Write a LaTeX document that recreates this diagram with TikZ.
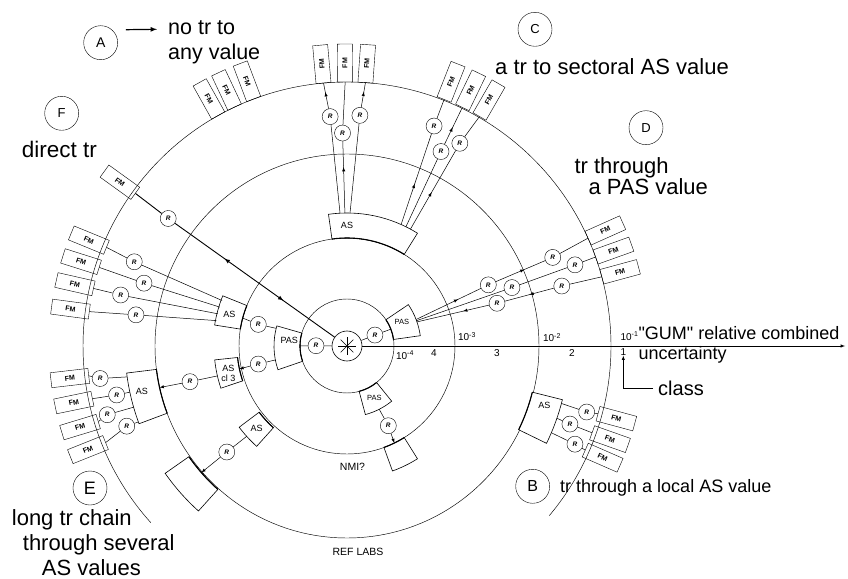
\documentclass[tikz,border=0pt]{standalone}
\usepackage{fontspec}
\setmainfont{Liberation Sans}[Ligatures=TeXOff]
\usetikzlibrary{decorations.markings}

% annular block: start angle, end angle, inner radius, outer radius
\newcommand{\sectorblk}[4]{%
  \draw[sectbox] (#1:#3) arc[start angle=#1, end angle=#2, radius=#3pt]
    -- (#2:#4) arc[start angle=#2, end angle=#1, radius=#4pt] -- cycle;
  \draw[line width=1.1pt] (#1:#3) arc[start angle=#1, end angle=#2, radius=#3pt];}

\begin{document}
\begin{tikzpicture}[x=1pt, y=1pt,
        ring/.style={line width=0.45pt},
        link/.style={line width=0.5pt},
        boldlink/.style={line width=0.9pt},
        sectbox/.style={draw, fill=white, line width=0.6pt},
        rcirc/.style={circle, draw, fill=white, minimum size=16pt, inner sep=0pt,
            font=\fontsize{6.5}{6.5}\selectfont\bfseries\itshape},
        fmbox/.style={draw, minimum width=38pt, minimum height=15pt,
            inner sep=0pt, font=\fontsize{7}{7}\selectfont\bfseries, rotate=#1},
        tag/.style={circle, draw, minimum size=34pt, inner sep=0pt,
            font=\fontsize{13}{13}\selectfont},
        bigtxt/.style={anchor=base west, align=left, inner sep=0pt},
        lbl/.style={font=\fontsize{9}{9.5}\selectfont, inner sep=0pt, align=center},
        axlbl/.style={font=\fontsize{10}{10}\selectfont, inner sep=0pt},
        fwdarr/.style={postaction={decorate, decoration={markings,
            mark=at position #1 with {\arrow{latex}}}}},
        bwdarr/.style={postaction={decorate, decoration={markings,
            mark=at position #1 with {\arrowreversed{latex}}}}}
    ]
    \useasboundingbox (-347,-232) rectangle (501,346);

    % uncertainty rings
    \draw[ring] (0,0) circle[radius=47pt];
    \draw[ring] (0,0) circle[radius=108pt];
    \draw[ring] (0,0) circle[radius=192pt];
    \draw[ring] (-40:264) arc[start angle=-40, end angle=222, radius=264pt];

    % centre and axis
    \node[circle, draw, fill=white, minimum size=30pt, inner sep=0pt, line width=0.6pt] (star) at (0,0) {};
    \foreach \a in {0,45,...,315}
        \draw[line width=0.6pt] (star.center) -- +(\a:9);
    \coordinate (axisEnd) at (498,0);
    \draw[link, -latex] (star) -- (axisEnd);

    \node[axlbl] (e4) at (58,-9) {10\textsuperscript{-4}};
    \node[axlbl] (n4) at (87,-7) {4};
    \node[axlbl] (e3) at (120,9.5) {10\textsuperscript{-3}};
    \node[axlbl] (n3) at (150,-7) {3};
    \node[axlbl] (e2) at (205,8.5) {10\textsuperscript{-2}};
    \node[axlbl] (n2) at (225,-7) {2};
    \node[axlbl] (e1) at (282.5,10) {10\textsuperscript{-1}};
    \node[axlbl] (n1) at (276.3,-6) {1};
    \node[bigtxt, font=\fontsize{18}{20}\selectfont] (gum) at (291.3,-14) {"GUM" relative combined\\uncertainty};
    \node[bigtxt, font=\fontsize{20}{20}\selectfont] (cls) at (311,-49) {class};
    \draw[link, -latex] ([xshift=-5pt]cls.west) -| (n1.south);

    % blocks
    \sectorblk{58}{98}{108}{133}
    \sectorblk{8}{34}{47}{74}
    \sectorblk{164}{199}{47}{73}
    \sectorblk{158}{171}{108}{134}
    \sectorblk{186}{198.5}{110}{133}
    \sectorblk{187}{200.5}{192}{222}
    \sectorblk{217}{228}{110}{135}
    \sectorblk{215}{228}{193}{222}
    \sectorblk{285}{309}{47}{71}
    \sectorblk{290}{302}{108}{133}
    \sectorblk{334}{346}{191}{222}

    \node[lbl] (asT) at (0,121) {AS};
    \node[lbl, font=\fontsize{7.5}{8}\selectfont] (pasD) at (24:60) {PAS};
    \node[lbl] (pasL) at (174:58) {PAS};
    \node[lbl] (asL) at (165:121.7) {AS};
    \node[lbl] (asCl) at (193:121.8) {AS\\cl 3};
    \node[lbl] (asE) at (192.5:210) {AS};
    \node[lbl] (asLL) at (222.2:122) {AS};
    \node[lbl, font=\fontsize{7.5}{8}\selectfont] (pasB) at (297.7:58.7) {PAS};
    \node[lbl] (asB) at (343.3:206) {AS};
    \node[lbl, font=\fontsize{10.5}{11}\selectfont] (nmi) at (5.5,-121) {NMI?};
    \node[lbl, font=\fontsize{10.5}{11}\selectfont] (refl) at (11,-206) {REF LABS};

    % attachment points on the blocks
    \coordinate (asT-a1) at (93:133);
    \coordinate (asT-a2) at (90.9:133);
    \coordinate (asT-a3) at (88.7:133);
    \coordinate (asT-b1) at (66:133);
    \coordinate (asT-b2) at (63.7:133);
    \coordinate (asT-b3) at (61.5:133);
    \coordinate (pasD-i) at (21:47);
    \coordinate (pasD-o1) at (21:74);
    \coordinate (pasD-o2) at (20:74);
    \coordinate (pasD-o3) at (19:74);
    \coordinate (pasL-i) at (180:47);
    \coordinate (pasL-o1) at (166:73);
    \coordinate (pasL-o2) at (191:73);
    \coordinate (asL-i) at (165:108);
    \foreach \a [count=\i] in {160,163,166,169}
        \coordinate (asL-o\i) at (\a:133);
    \coordinate (asCl-i) at (192:110);
    \coordinate (asCl-o) at (193:133);
    \coordinate (asE-i) at (192.5:192);
    \foreach \a [count=\i] in {188,192,196,200}
        \coordinate (asE-o\i) at (\a:222);
    \coordinate (asLL-o) at (222:135);
    \coordinate (secLL-i) at (221:193);
    \coordinate (pasB-o) at (297:71);
    \coordinate (secB-i) at (296:108);
    \foreach \a [count=\i] in {345,341,337}
        \coordinate (asB-o\i) at (\a:222);

    % FM boxes
    \foreach \a [count=\i] in {119.2,115.2,110.7}
        \node[fmbox=\a-180] (fmA\i) at (\a:283) {FM};
    \foreach \a [count=\i] in {95.1,90.4,86}
        \node[fmbox=\a] (fmT\i) at (\a:283) {FM};
    \foreach \a [count=\i] in {68.5,64.2,60}
        \node[fmbox=\a] (fmC\i) at (\a:284) {FM};
    \foreach \a [count=\i] in {24.1,19.7,15.2}
        \node[fmbox=\a] (fmD\i) at (\a:283) {FM};
    \foreach \a [count=\i] in {344.9,340.5,336.4}
        \node[fmbox=\a] (fmB\i) at (\a:279) {FM};
    \node[fmbox=-35.8] (fmF) at (144.2:280) {FM};
    \foreach \a [count=\i] in {157.7,162.4,167.2,172.4}
        \node[fmbox=\a-180] (fmL\i) at (\a:279) {FM};
    \foreach \a [count=\i] in {186.6,191.7,196.9,201.8}
        \node[fmbox=\a-180] (fmE\i) at (\a:279) {FM};

    % R nodes
    \node[rcirc] (rD0) at (21.4:30) {R};
    \node[rcirc] (rL0) at (179.5:31) {R};
    \node[rcirc] (rD1a) at (23.4:154) {R};
    \node[rcirc] (rD1b) at (23.3:224) {R};
    \node[rcirc] (rD2a) at (19.5:175) {R};
    \node[rcirc] (rD2b) at (19.6:242) {R};
    \node[rcirc] (rD3a) at (15.9:156) {R};
    \node[rcirc] (rD3b) at (15.6:223) {R};
    \node[rcirc] (rT1) at (94.2:230) {R};
    \node[rcirc] (rT2) at (91.2:213) {R};
    \node[rcirc] (rT3) at (86.8:231) {R};
    \node[rcirc] (rC1) at (68.4:236.6) {R};
    \node[rcirc] (rC2) at (64.2:216) {R};
    \node[rcirc] (rC3) at (60.9:232) {R};
    \node[rcirc] (rF) at (144.5:219.6) {R};
    \foreach \a/\r [count=\i] in {158.4/228.8,162.8/212.5,167.3/232,171.6/213.3}
        \node[rcirc] (rL\i) at (\a:\r) {R};
    \node[rcirc] (rAsL) at (166.3:91.3) {R};
    \node[rcirc] (rAsCl) at (191.5:90.5) {R};
    \node[rcirc] (rE0) at (192.8:161) {R};
    \foreach \a/\r [count=\i] in {187.5/249,192/235.5,196/249.4,200/234.4}
        \node[rcirc] (rE\i) at (\a:\r) {R};
    \node[rcirc] (rLL) at (221.4:160.3) {R};
    \node[rcirc] (rB0) at (297.4:89.8) {R};
    \foreach \a/\r [count=\i] in {344.6/248.6,340.7/236.2,336.7/248.2}
        \node[rcirc] (rB\i) at (\a:\r) {R};

    % traceability links
    \draw[link] (star) -- (rD0);
    \draw[link] (rD0) -- (pasD-i);
    \draw[link] (star) -- (rL0);
    \draw[link] (rL0) -- (pasL-i);

    \draw[link, fwdarr=0.65] (pasD-o1) -- (rD1a);
    \draw[link, fwdarr=0.58] (rD1a) -- (rD1b);
    \draw[link] (rD1b) -- (fmD1.west);
    \draw[link] (pasD-o2) -- (rD2a);
    \draw[link] (rD2a) -- (rD2b);
    \draw[link] (rD2b) -- (fmD2.west);
    \draw[link, bwdarr=0.64] (pasD-o3) -- (rD3a);
    \draw[link, bwdarr=0.5] (rD3a) -- (rD3b);
    \draw[link] (rD3b) -- (fmD3.west);

    \draw[link] (asT-a1) -- (rT1);
    \draw[link, fwdarr=0.65] (rT1) -- (fmT1.west);
    \draw[link, fwdarr=0.64] (asT-a2) -- (rT2);
    \draw[link] (rT2) -- (fmT2.west);
    \draw[link] (asT-a3) -- (rT3);
    \draw[link, fwdarr=0.64] (rT3) -- (fmT3.west);

    \draw[link, fwdarr=0.45] (asT-b1) -- (rC1);
    \draw[link] (rC1) -- (fmC1.west);
    \draw[link] (asT-b2) -- (rC2);
    \draw[link, fwdarr=0.46] (rC2) -- (fmC2.west);
    \draw[link, fwdarr=0.47] (asT-b3) -- (rC3);
    \draw[link] (rC3) -- (fmC3.west);

    \draw[boldlink, bwdarr=0.32, fwdarr=0.69] (star) -- (rF);
    \draw[boldlink] (rF) -- (fmF.east);

    \foreach \i in {1,...,4} {
        \draw[link] (asL-o\i) -- (rL\i);
        \draw[link] (rL\i) -- (fmL\i.east);
        \draw[link] (asE-o\i) -- (rE\i);
        \draw[link] (rE\i) -- (fmE\i.east);
    }
    \foreach \i in {1,2,3} {
        \draw[link] (asB-o\i) -- (rB\i);
        \draw[link] (rB\i) -- (fmB\i.west);
    }

    \draw[link] (pasL-o1) -- (rAsL);
    \draw[link] (rAsL) -- (asL-i);
    \draw[link] (pasL-o2) -- (rAsCl);
    \draw[link, -latex] (rAsCl) -- (asCl-i);
    \draw[link] (asCl-o) -- (rE0);
    \draw[link, -latex] (rE0) -- (asE-i);
    \draw[link] (asLL-o) -- (rLL);
    \draw[link, -latex] (rLL) -- (secLL-i);
    \draw[link] (pasB-o) -- (rB0);
    \draw[link, -latex] (rB0) -- (secB-i);

    % case tags and captions
    \node[tag, font=\fontsize{14}{14}\selectfont] (tagA) at (-246.3,303.3) {A};
    \node[bigtxt, font=\fontsize{21.5}{25}\selectfont] (txtA) at (-179,286) {no tr to\\any value};
    \draw[-latex, line width=1.2pt] ([shift={(8,13)}]tagA.east) -- ([shift={(-11,30.7)}]txtA.base west);

    \node[tag] (tagF) at (-285.3,232.7) {F};
    \node[bigtxt, font=\fontsize{22.5}{25}\selectfont] (txtF) at (-325.3,188) {direct tr};

    \node[tag] (tagC) at (188,316.7) {C};
    \node[bigtxt, font=\fontsize{22}{25}\selectfont] (txtC) at (148,271) {a tr to sectoral AS value};

    \node[tag] (tagD) at (299,218.3) {D};
    \node[bigtxt, font=\fontsize{22}{20}\selectfont] (txtD) at (227.3,151) {tr through\\\hspace*{14pt}a PAS value};

    \node[tag, font=\fontsize{16}{16}\selectfont] (tagB) at (185.7,-140.3) {B};
    \node[bigtxt, font=\fontsize{18}{20}\selectfont] (txtB) at (213,-146) {tr through a local AS value};

    \node[tag, font=\fontsize{18}{18}\selectfont] (tagE) at (-257,-142) {E};
    \node[bigtxt, font=\fontsize{22}{25}\selectfont] (txtE) at (-335.3,-229) {long tr chain\\\hspace*{11pt}through several\\\hspace*{30pt}AS values};
\end{tikzpicture}
\end{document}
